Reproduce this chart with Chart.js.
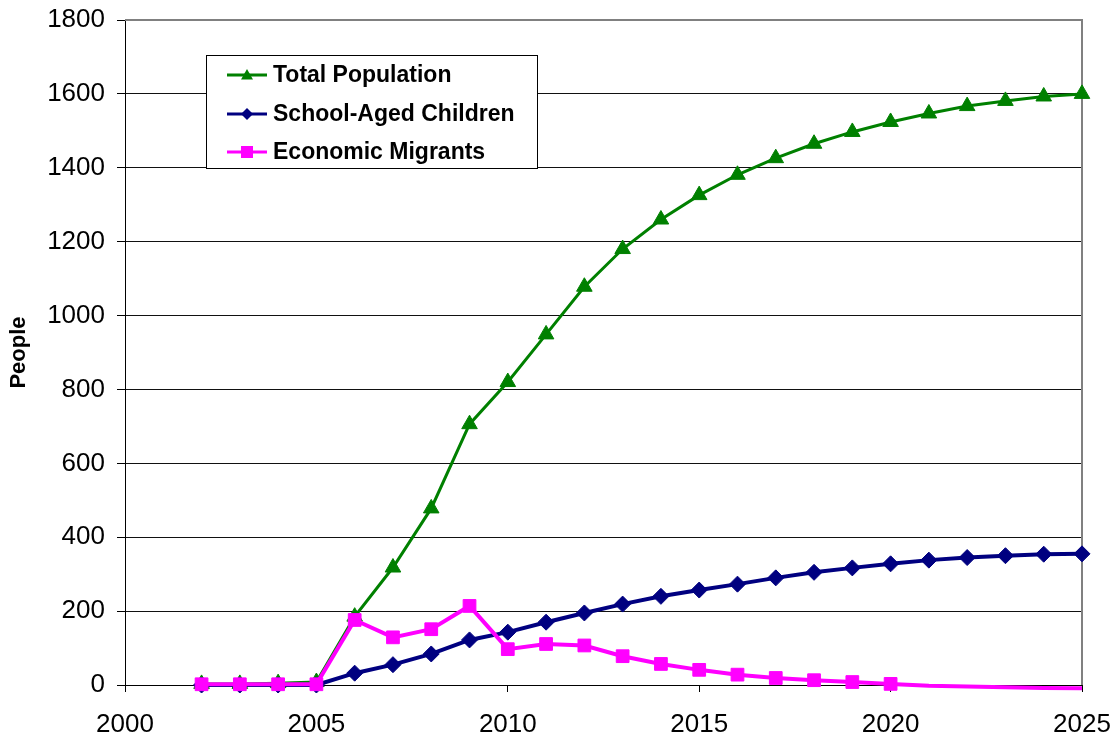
<!DOCTYPE html>
<html>
<head>
<meta charset="utf-8">
<script src="https://cdn.jsdelivr.net/npm/chart.js@4/dist/chart.umd.min.js"></script>
<style>
  html, body { margin: 0; padding: 0; background: #fff; }
  #wrap { width: 1118px; height: 740px; }
</style>
</head>
<body>
<div id="wrap"><canvas id="chart" width="1118" height="740"></canvas></div>
<script>
const years = [2002, 2003, 2004, 2005, 2006, 2007, 2008, 2009, 2010, 2011, 2012, 2013,
  2014, 2015, 2016, 2017, 2018, 2019, 2020, 2021, 2022, 2023, 2024, 2025];
const totalPopulation = [3, 3, 5, 8, 185, 318, 478, 706, 820, 949, 1078, 1180,
  1260, 1326, 1381, 1426, 1465, 1497, 1524, 1547, 1567, 1581, 1593, 1600];
const schoolChildren = [0, 0, 0, 0, 32, 55, 84, 122, 143, 170, 195, 219,
  240, 257, 273, 290, 305, 317, 328, 338, 345, 350, 354, 355];
const migrants = [2, 2, 2, 2, 176, 129, 151, 214, 97, 111, 107, 78,
  57, 41, 28, 19, 13, 8, 3, -2, -4, -6, -8, -9];
const lastMigrantMarker = 2020;

const seriesNames = ['Total Population', 'School-Aged Children', 'Economic Migrants'];
const seriesColors = ['#008000', '#000080', '#FF00FF'];

const FONT = "'Liberation Sans', Arial, sans-serif";

function toPoints(values) {
  return years.map((y, i) => ({ x: y, y: values[i] }));
}

// simple marker drawing for the legend box
function drawMarker(ctx, style, x, y, r, color) {
  ctx.save();
  ctx.fillStyle = color;
  ctx.beginPath();
  if (style === 'triangle') {
    ctx.moveTo(x, y - r);
    ctx.lineTo(x + r, y + r * 0.75);
    ctx.lineTo(x - r, y + r * 0.75);
  } else if (style === 'rectRot') {
    ctx.moveTo(x, y - r);
    ctx.lineTo(x + r, y);
    ctx.lineTo(x, y + r);
    ctx.lineTo(x - r, y);
  } else {
    ctx.rect(x - r, y - r, r * 2, r * 2);
  }
  ctx.closePath();
  ctx.fill();
  ctx.restore();
}

const legendBox = {
  id: 'legendBox',
  afterDraw(chart) {
    const ctx = chart.ctx;
    const styles = ['triangle', 'rectRot', 'rect'];
    const rowsY = [75, 114, 152];
    ctx.save();
    ctx.fillStyle = '#fff';
    ctx.fillRect(206, 55, 331, 113);
    ctx.strokeStyle = '#000';
    ctx.lineWidth = 1;
    ctx.strokeRect(206.5, 55.5, 331, 113);
    seriesNames.forEach((name, i) => {
      const y = rowsY[i];
      ctx.strokeStyle = seriesColors[i];
      ctx.lineWidth = 3;
      ctx.beginPath();
      ctx.moveTo(227, y);
      ctx.lineTo(267, y);
      ctx.stroke();
      drawMarker(ctx, styles[i], 247, y, 6, seriesColors[i]);
      ctx.fillStyle = '#000';
      ctx.font = 'bold 23px ' + FONT;
      ctx.textBaseline = 'middle';
      ctx.textAlign = 'left';
      ctx.fillText(name, 273, y + 1);
    });
    ctx.restore();
  }
};

const plotBorder = {
  id: 'plotBorder',
  beforeDatasetsDraw(chart) {
    const { ctx, chartArea } = chart;
    ctx.save();
    ctx.strokeStyle = '#808080';
    ctx.lineWidth = 2;
    ctx.beginPath();
    ctx.moveTo(chartArea.left, chartArea.top);
    ctx.lineTo(chartArea.right, chartArea.top);
    ctx.lineTo(chartArea.right, chartArea.bottom);
    ctx.stroke();
    ctx.restore();
  }
};

new Chart(document.getElementById('chart').getContext('2d'), {
  type: 'line',
  data: {
    datasets: [
      {
        label: seriesNames[0],
        data: toPoints(totalPopulation),
        borderColor: seriesColors[0],
        backgroundColor: seriesColors[0],
        borderWidth: 3,
        pointStyle: 'triangle',
        pointRadius: 9,
        pointBorderWidth: 1,
        tension: 0,
        clip: false,
        order: 3
      },
      {
        label: seriesNames[1],
        data: toPoints(schoolChildren),
        borderColor: seriesColors[1],
        backgroundColor: seriesColors[1],
        borderWidth: 4,
        pointStyle: 'rectRot',
        pointRadius: 8,
        pointBorderWidth: 1,
        tension: 0,
        clip: false,
        order: 2
      },
      {
        label: seriesNames[2],
        data: toPoints(migrants),
        borderColor: seriesColors[2],
        backgroundColor: seriesColors[2],
        borderWidth: 4,
        pointStyle: 'rect',
        pointRadius: years.map(y => y <= lastMigrantMarker ? 9 : 0),
        pointBorderWidth: 1,
        tension: 0,
        clip: false,
        order: 1
      }
    ]
  },
  options: {
    responsive: false,
    animation: false,
    layout: { padding: { top: 20, right: 36, left: 0, bottom: 0 } },
    plugins: {
      legend: { display: false },
      tooltip: { enabled: false }
    },
    scales: {
      x: {
        type: 'linear',
        min: 2000,
        max: 2025,
        ticks: {
          stepSize: 5,
          color: '#000',
          font: { family: FONT, size: 26 },
          padding: 17,
          maxRotation: 0,
          callback: v => String(v)
        },
        grid: {
          drawOnChartArea: false,
          drawTicks: true,
          tickLength: 7,
          color: '#000'
        },
        border: { display: true, color: '#000', width: 1 },
        afterFit(scale) {
          scale.height = 55;
          scale.paddingLeft = 0;
          scale.paddingRight = 0;
        }
      },
      y: {
        min: 0,
        max: 1800,
        ticks: {
          stepSize: 200,
          color: '#000',
          font: { family: FONT, size: 26 },
          padding: 12,
          callback: v => String(v)
        },
        grid: {
          color: ctx => ctx.tick && ctx.tick.value === 1800 ? 'rgba(0,0,0,0)' : '#111',
          tickColor: '#000',
          tickLength: 8,
          lineWidth: 1
        },
        border: { display: true, color: '#000', width: 1 },
        title: {
          display: true,
          text: 'People',
          color: '#000',
          font: { family: FONT, size: 22, weight: 'bold' },
          padding: { top: 6, bottom: 0 }
        },
        afterFit(scale) {
          scale.width = 125;
          scale.paddingTop = 0;
          scale.paddingBottom = 0;
        }
      }
    }
  },
  plugins: [plotBorder, legendBox]
});
</script>
</body>
</html>
